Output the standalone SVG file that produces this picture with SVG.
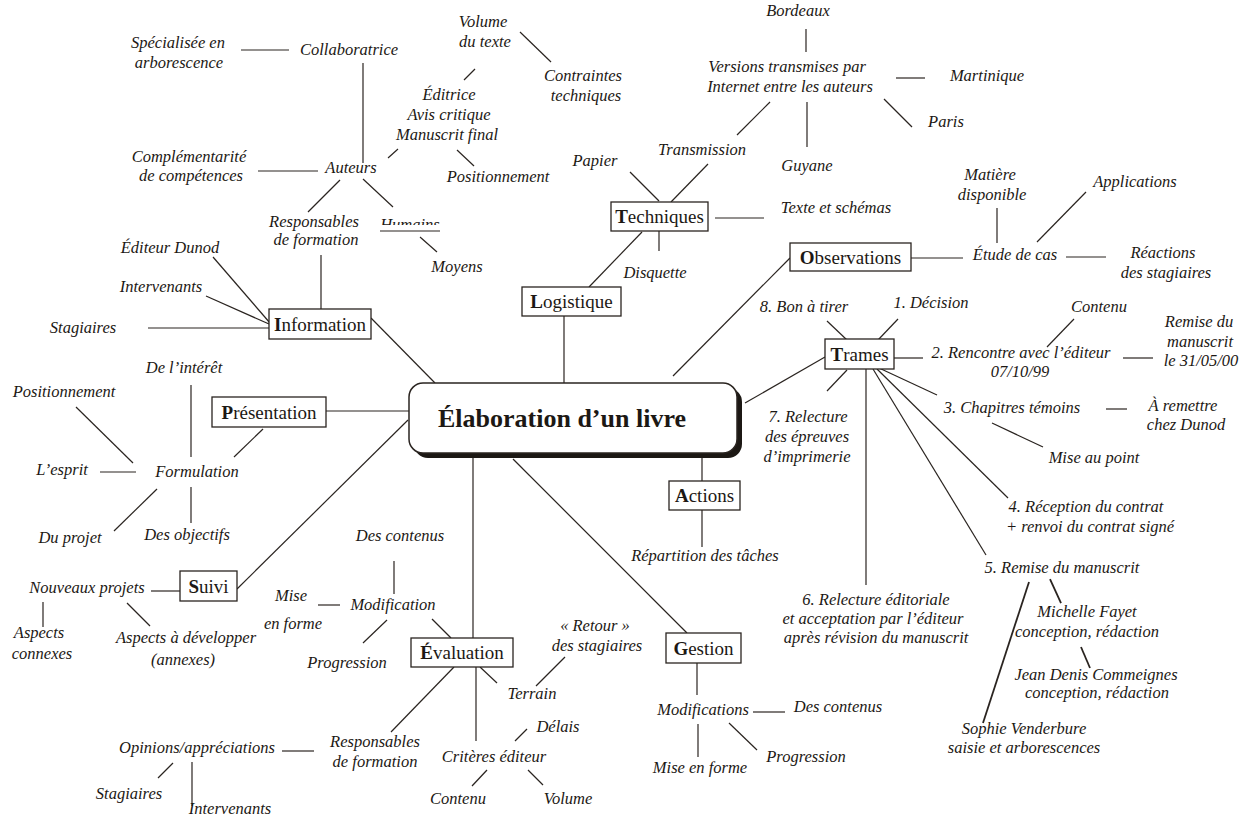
<svg xmlns="http://www.w3.org/2000/svg" width="1248" height="821" viewBox="0 0 1248 821">
<style>
.t{font-family:"Liberation Serif","Times New Roman",serif;font-style:italic;font-size:16.5px;fill:#1c1814;text-anchor:middle}
.b{font-family:"Liberation Serif","Times New Roman",serif;font-size:19px;fill:#1c1814;text-anchor:middle}
.b tspan.f{font-weight:bold}
.box{fill:#fff;stroke:#2a2420;stroke-width:1.3}
.c line{stroke:#2a2420;stroke-width:1.2}
.title{font-family:"Liberation Serif","Times New Roman",serif;font-weight:bold;font-size:26px;fill:#1c1814;text-anchor:middle}
</style>
<defs>
<clipPath id="humclip"><rect x="370" y="205" width="80" height="20"/></clipPath>
</defs>
<rect width="1248" height="821" fill="#fff"/>

<g id="connectors" class="c">
<!-- Auteurs area -->
<line x1="241" y1="50" x2="289" y2="50"/>
<line x1="363" y1="63" x2="363" y2="163"/>
<line x1="258" y1="171" x2="318" y2="171"/>
<line x1="388" y1="158" x2="398" y2="149"/>
<line x1="340" y1="180" x2="308" y2="212"/>
<line x1="363" y1="179" x2="393" y2="207"/>
<line x1="380" y1="231" x2="440" y2="231"/>
<line x1="420" y1="237" x2="437" y2="252"/>
<line x1="321" y1="255" x2="321" y2="309"/>
<!-- Editrice area -->
<line x1="520" y1="32" x2="551" y2="62"/>
<line x1="464" y1="80" x2="475" y2="69"/>
<line x1="457" y1="150" x2="474" y2="166"/>
<!-- Techniques -->
<line x1="630" y1="172" x2="659" y2="201"/>
<line x1="708" y1="164" x2="671" y2="202"/>
<line x1="770" y1="102" x2="737" y2="135"/>
<line x1="806" y1="29" x2="806" y2="52"/>
<line x1="807" y1="102" x2="807" y2="147"/>
<line x1="896" y1="78" x2="925" y2="78"/>
<line x1="884" y1="99" x2="912" y2="127"/>
<line x1="715" y1="218" x2="764" y2="218"/>
<line x1="659" y1="231" x2="659" y2="251"/>
<line x1="642" y1="232" x2="589" y2="287"/>
<line x1="564" y1="316" x2="564" y2="383"/>
<!-- Observations -->
<line x1="997" y1="208" x2="997" y2="243"/>
<line x1="1086" y1="192" x2="1037" y2="242"/>
<line x1="911" y1="258" x2="963" y2="258"/>
<line x1="1066" y1="257" x2="1106" y2="257"/>
<line x1="790" y1="258" x2="673" y2="376"/>
<!-- Information -->
<line x1="213" y1="257" x2="270" y2="323"/>
<line x1="206" y1="296" x2="269" y2="324"/>
<line x1="148" y1="328" x2="269" y2="328"/>
<line x1="371" y1="318" x2="435" y2="383"/>
<!-- Presentation -->
<line x1="191" y1="385" x2="191" y2="457"/>
<line x1="76" y1="407" x2="133" y2="463"/>
<line x1="100" y1="472" x2="136" y2="472"/>
<line x1="263" y1="429" x2="234" y2="457"/>
<line x1="326" y1="411" x2="409" y2="411"/>
<line x1="157" y1="489" x2="114" y2="531"/>
<line x1="191" y1="487" x2="191" y2="523"/>
<!-- Suivi -->
<line x1="237" y1="589" x2="408" y2="420"/>
<line x1="151" y1="591" x2="180" y2="591"/>
<line x1="43" y1="602" x2="43" y2="627"/>
<line x1="127" y1="603" x2="150" y2="626"/>
<!-- Evaluation -->
<line x1="394" y1="561" x2="394" y2="594"/>
<line x1="318" y1="605" x2="340" y2="605"/>
<line x1="387" y1="620" x2="363" y2="643"/>
<line x1="432" y1="619" x2="451" y2="638"/>
<line x1="473" y1="638" x2="473" y2="456"/>
<line x1="454" y1="667" x2="391" y2="732"/>
<line x1="282" y1="751" x2="314" y2="751"/>
<line x1="173" y1="763" x2="158" y2="778"/>
<line x1="192" y1="762" x2="192" y2="806"/>
<line x1="476" y1="667" x2="476" y2="741"/>
<line x1="480" y1="667" x2="497" y2="683"/>
<line x1="536" y1="686" x2="565" y2="657"/>
<line x1="515" y1="741" x2="527" y2="729"/>
<line x1="487" y1="770" x2="472" y2="786"/>
<line x1="528" y1="770" x2="543" y2="785"/>
<!-- Actions / Gestion -->
<line x1="702" y1="458" x2="702" y2="481"/>
<line x1="702" y1="510" x2="702" y2="547"/>
<line x1="513" y1="459" x2="687" y2="633"/>
<line x1="697" y1="663" x2="697" y2="695"/>
<line x1="753" y1="712" x2="785" y2="712"/>
<line x1="698" y1="724" x2="698" y2="757"/>
<line x1="729" y1="723" x2="757" y2="750"/>
<!-- Trames -->
<line x1="745" y1="403" x2="825" y2="357"/>
<line x1="827" y1="321" x2="847" y2="340"/>
<line x1="898" y1="319" x2="878" y2="340"/>
<line x1="847" y1="370" x2="827" y2="391"/>
<line x1="866" y1="369" x2="866" y2="585"/>
<line x1="894" y1="358" x2="923" y2="358"/>
<line x1="1047" y1="347" x2="1074" y2="319"/>
<line x1="1123" y1="358" x2="1153" y2="358"/>
<line x1="879" y1="368" x2="937" y2="395"/>
<line x1="1106" y1="409" x2="1127" y2="409"/>
<line x1="992" y1="423" x2="1043" y2="447"/>
<line x1="877" y1="369" x2="1008" y2="498"/>
<line x1="873" y1="369" x2="986" y2="555"/>
<line x1="1050" y1="579" x2="1061" y2="603" style="stroke-width:1.8"/>
<line x1="1081" y1="647" x2="1090" y2="668" style="stroke-width:1.8"/>
<line x1="1029" y1="582" x2="983" y2="723" style="stroke-width:1.8"/>
</g>

<g id="center">
<rect x="414" y="388" width="328" height="70" rx="14" fill="#1c1814"/>
<rect x="409" y="383" width="328" height="70" rx="14" fill="#fff" stroke="#2a2420" stroke-width="1.5"/>
<text class="title" x="562" y="427">Élaboration d’un livre</text>
</g>

<g id="techniques"><rect class="box" x="611" y="202" width="97" height="29"/><text class="b" x="659.5" y="223"><tspan class="f">T</tspan>echniques</text></g>
<g id="logistique"><rect class="box" x="522" y="287" width="99" height="29"/><text class="b" x="571.5" y="308"><tspan class="f">L</tspan>ogistique</text></g>
<g id="observations"><rect class="box" x="790" y="243" width="121" height="28"/><text class="b" x="850.5" y="264"><tspan class="f">O</tspan>bservations</text></g>
<g id="information"><rect class="box" x="269" y="309" width="102" height="30"/><text class="b" x="320" y="331"><tspan class="f">I</tspan>nformation</text></g>
<g id="presentation"><rect class="box" x="212" y="397" width="114" height="30"/><text class="b" x="269" y="419"><tspan class="f">P</tspan>résentation</text></g>
<g id="trames"><rect class="box" x="825" y="339" width="69" height="30"/><text class="b" x="859.5" y="361"><tspan class="f">T</tspan>rames</text></g>
<g id="actions"><rect class="box" x="669" y="481" width="71" height="29"/><text class="b" x="704.5" y="502"><tspan class="f">A</tspan>ctions</text></g>
<g id="suivi"><rect class="box" x="180" y="571" width="57" height="30"/><text class="b" x="208.5" y="593"><tspan class="f">S</tspan>uivi</text></g>
<g id="evaluation"><rect class="box" x="411" y="638" width="102" height="29"/><text class="b" x="462" y="659"><tspan class="f">É</tspan>valuation</text></g>
<g id="gestion"><rect class="box" x="666" y="633" width="75" height="30"/><text class="b" x="703.5" y="655"><tspan class="f">G</tspan>estion</text></g>

<g id="specialisee"><text class="t" x="178" y="48">Spécialisée en</text><text class="t" x="179" y="68">arborescence</text></g>
<g id="collaboratrice"><text class="t" x="349" y="55">Collaboratrice</text></g>
<g id="complementarite"><text class="t" x="189" y="162">Complémentarité</text><text class="t" x="191" y="181">de compétences</text></g>
<g id="auteurs"><text class="t" x="351" y="173">Auteurs</text></g>
<g id="responsables1"><text class="t" x="314" y="227">Responsables</text><text class="t" x="316" y="245">de formation</text></g>
<g id="humains"><text class="t" x="410" y="230" clip-path="url(#humclip)">Humains</text></g>
<g id="moyens"><text class="t" x="457" y="272">Moyens</text></g>
<g id="volume1"><text class="t" x="483" y="27">Volume</text><text class="t" x="485" y="47">du texte</text></g>
<g id="contraintes"><text class="t" x="583" y="81">Contraintes</text><text class="t" x="586" y="101">techniques</text></g>
<g id="editrice"><text class="t" x="449" y="100">Éditrice</text><text class="t" x="449" y="120">Avis critique</text><text class="t" x="447" y="140">Manuscrit final</text></g>
<g id="positionnement1"><text class="t" x="498" y="182">Positionnement</text></g>
<g id="papier"><text class="t" x="595" y="166">Papier</text></g>
<g id="transmission"><text class="t" x="702" y="155">Transmission</text></g>
<g id="bordeaux"><text class="t" x="798" y="16">Bordeaux</text></g>
<g id="versions"><text class="t" x="787" y="72">Versions transmises par</text><text class="t" x="790" y="92">Internet entre les auteurs</text></g>
<g id="martinique"><text class="t" x="987" y="81">Martinique</text></g>
<g id="paris"><text class="t" x="946" y="127">Paris</text></g>
<g id="guyane"><text class="t" x="807" y="171">Guyane</text></g>
<g id="texte"><text class="t" x="836" y="213">Texte et schémas</text></g>
<g id="disquette"><text class="t" x="655" y="278">Disquette</text></g>
<g id="matiere"><text class="t" x="990" y="180">Matière</text><text class="t" x="992" y="200">disponible</text></g>
<g id="applications"><text class="t" x="1135" y="187">Applications</text></g>
<g id="etude"><text class="t" x="1015" y="260">Étude de cas</text></g>
<g id="reactions"><text class="t" x="1163" y="258">Réactions</text><text class="t" x="1166" y="278">des stagiaires</text></g>
<g id="editeur"><text class="t" x="170" y="253">Éditeur Dunod</text></g>
<g id="intervenants1"><text class="t" x="161" y="292">Intervenants</text></g>
<g id="stagiaires1"><text class="t" x="83" y="333">Stagiaires</text></g>
<g id="interet"><text class="t" x="184" y="373">De l’intérêt</text></g>
<g id="positionnement2"><text class="t" x="64" y="397">Positionnement</text></g>
<g id="esprit"><text class="t" x="62" y="475">L’esprit</text></g>
<g id="formulation"><text class="t" x="197" y="477">Formulation</text></g>
<g id="duprojet"><text class="t" x="70" y="543">Du projet</text></g>
<g id="objectifs"><text class="t" x="187" y="540">Des objectifs</text></g>
<g id="nouveaux"><text class="t" x="87" y="593">Nouveaux projets</text></g>
<g id="connexes"><text class="t" x="39" y="638">Aspects</text><text class="t" x="42" y="659">connexes</text></g>
<g id="adevelopper"><text class="t" x="186" y="643">Aspects à développer</text><text class="t" x="183" y="665">(annexes)</text></g>
<g id="descontenus1"><text class="t" x="400" y="541">Des contenus</text></g>
<g id="modification"><text class="t" x="393" y="610">Modification</text></g>
<g id="miseenforme1"><text class="t" x="291" y="601">Mise</text><text class="t" x="293" y="629">en forme</text></g>
<g id="progression1"><text class="t" x="347" y="668">Progression</text></g>
<g id="responsables2"><text class="t" x="375" y="747">Responsables</text><text class="t" x="375" y="767">de formation</text></g>
<g id="opinions"><text class="t" x="197" y="753">Opinions/appréciations</text></g>
<g id="stagiaires2"><text class="t" x="129" y="799">Stagiaires</text></g>
<g id="intervenants2"><text class="t" x="230" y="814">Intervenants</text></g>
<g id="terrain"><text class="t" x="532" y="699">Terrain</text></g>
<g id="retour"><text class="t" x="595" y="631">« Retour »</text><text class="t" x="597" y="651">des stagiaires</text></g>
<g id="criteres"><text class="t" x="494" y="762">Critères éditeur</text></g>
<g id="delais"><text class="t" x="558" y="732">Délais</text></g>
<g id="contenu1"><text class="t" x="458" y="804">Contenu</text></g>
<g id="volume2"><text class="t" x="568" y="804">Volume</text></g>
<g id="repartition"><text class="t" x="705" y="561">Répartition des tâches</text></g>
<g id="modifications"><text class="t" x="703" y="715">Modifications</text></g>
<g id="descontenus2"><text class="t" x="838" y="712">Des contenus</text></g>
<g id="miseenforme2"><text class="t" x="700" y="773">Mise en forme</text></g>
<g id="progression2"><text class="t" x="806" y="762">Progression</text></g>
<g id="bat"><text class="t" x="804" y="312">8. Bon à tirer</text></g>
<g id="decision"><text class="t" x="931" y="308">1. Décision</text></g>
<g id="relecture7"><text class="t" x="808" y="422">7. Relecture</text><text class="t" x="807" y="442">des épreuves</text><text class="t" x="807" y="462">d’imprimerie</text></g>
<g id="relecture6"><text class="t" x="876" y="605">6. Relecture éditoriale</text><text class="t" x="873" y="624">et acceptation par l’éditeur</text><text class="t" x="876" y="643">après révision du manuscrit</text></g>
<g id="rencontre"><text class="t" x="1021" y="358">2. Rencontre avec l’éditeur</text><text class="t" x="1020" y="377">07/10/99</text></g>
<g id="contenu2"><text class="t" x="1099" y="312">Contenu</text></g>
<g id="remise1"><text class="t" x="1199" y="327">Remise du</text><text class="t" x="1200" y="347">manuscrit</text><text class="t" x="1201" y="366">le 31/05/00</text></g>
<g id="chapitres"><text class="t" x="1012" y="413">3. Chapitres témoins</text></g>
<g id="aremettre"><text class="t" x="1183" y="411">À remettre</text><text class="t" x="1186" y="430">chez Dunod</text></g>
<g id="miseaupoint"><text class="t" x="1094" y="463">Mise au point</text></g>
<g id="reception"><text class="t" x="1086" y="512">4. Réception du contrat</text><text class="t" x="1090" y="532">+ renvoi du contrat signé</text></g>
<g id="remise5"><text class="t" x="1062" y="573">5. Remise du manuscrit</text></g>
<g id="michelle"><text class="t" x="1087" y="617">Michelle Fayet</text><text class="t" x="1087" y="637">conception, rédaction</text></g>
<g id="jean"><text class="t" x="1096" y="680">Jean Denis Commeignes</text><text class="t" x="1097" y="698">conception, rédaction</text></g>
<g id="sophie"><text class="t" x="1024" y="734">Sophie Venderbure</text><text class="t" x="1024" y="753">saisie et arborescences</text></g>
</svg>
